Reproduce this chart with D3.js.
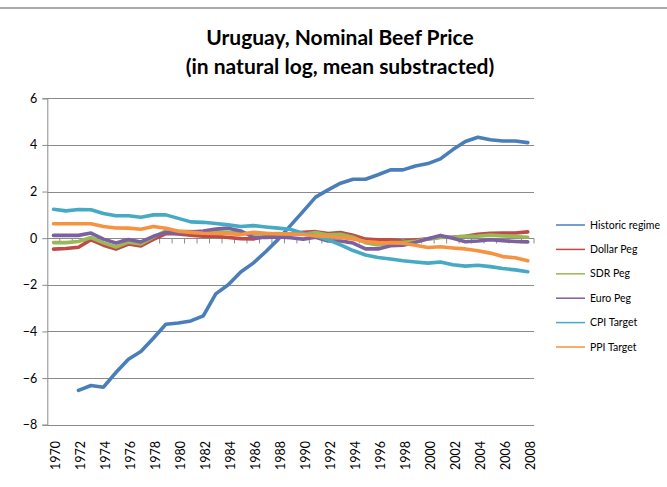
<!DOCTYPE html>
<html>
<head>
<meta charset="utf-8">
<script src="https://cdn.jsdelivr.net/npm/d3@7"></script>
<style>
  html, body { margin: 0; padding: 0; background: #fff; }
  svg { display: block; font-family: Lato, "Open Sans", sans-serif; }
</style>
</head>
<body>
<svg id="chart" width="667" height="487"></svg>
<script>
// Years on the category axis
const years = d3.range(1970, 2009);

// Tick values on the value axis
const yTicks = [-8, -6, -4, -2, 0, 2, 4, 6];

// Series names and colours
const seriesNames = ["Historic regime", "Dollar Peg", "SDR Peg", "Euro Peg", "CPI Target", "PPI Target"];
const seriesColors = ["#4A7EBB", "#BE4B48", "#98B954", "#7D60A0", "#46AAC5", "#F69240"];

// Log beef price (mean subtracted), 1970-2008
const historic = [null, null, -6.53, -6.32, -6.39, -5.76, -5.19, -4.86, -4.29, -3.69, -3.64, -3.55, -3.33,
  -2.39, -2.0, -1.45, -1.07, -0.58, -0.05, 0.55, 1.15, 1.76, 2.07, 2.36, 2.53, 2.53, 2.72, 2.93, 2.93,
  3.1, 3.2, 3.4, 3.8, 4.15, 4.33, 4.22, 4.17, 4.17, 4.1];
const dollarPeg = [-0.47, -0.44, -0.39, -0.07, -0.3, -0.47, -0.25, -0.33, -0.05, 0.2, 0.18, 0.13, 0.09,
  0.08, 0.03, -0.02, -0.03, 0.06, 0.12, 0.18, 0.25, 0.28, 0.2, 0.24, 0.13, -0.04, -0.07, -0.07, -0.12,
  -0.08, -0.03, 0.04, 0.05, 0.08, 0.17, 0.21, 0.22, 0.22, 0.27];
const sdrPeg = [-0.19, -0.19, -0.14, 0.03, -0.2, -0.38, -0.17, -0.25, 0.04, 0.32, 0.3, 0.28, 0.26,
  0.26, 0.25, 0.21, 0.2, 0.18, 0.2, 0.18, 0.17, 0.24, 0.14, 0.17, 0.04, -0.19, -0.29, -0.19, -0.18,
  -0.13, -0.03, 0.03, 0.04, 0.08, 0.09, 0.13, 0.1, 0.07, 0.04];
const euroPeg = [0.12, 0.12, 0.12, 0.22, -0.04, -0.21, -0.06, -0.16, 0.08, 0.24, 0.2, 0.26, 0.31,
  0.39, 0.43, 0.31, 0.04, 0.03, 0.05, 0.02, -0.04, 0.04, -0.12, -0.12, -0.21, -0.46, -0.46, -0.32, -0.3,
  -0.18, -0.02, 0.12, 0.0, -0.15, -0.12, -0.07, -0.11, -0.14, -0.16];
const cpiTarget = [1.24, 1.17, 1.23, 1.22, 1.06, 0.96, 0.96, 0.9, 1.0, 1.0, 0.85, 0.7, 0.68,
  0.63, 0.57, 0.5, 0.54, 0.48, 0.43, 0.37, 0.21, 0.1, -0.07, -0.29, -0.53, -0.72, -0.83, -0.89, -0.97,
  -1.02, -1.07, -1.02, -1.14, -1.2, -1.16, -1.22, -1.3, -1.36, -1.44];
const ppiTarget = [0.62, 0.62, 0.62, 0.62, 0.5, 0.44, 0.43, 0.38, 0.5, 0.43, 0.3, 0.25, 0.21,
  0.2, 0.19, 0.16, 0.25, 0.21, 0.18, 0.18, 0.16, 0.1, 0.07, 0.03, -0.03, -0.14, -0.19, -0.2, -0.22,
  -0.3, -0.4, -0.37, -0.42, -0.46, -0.54, -0.64, -0.79, -0.84, -0.97];

const seriesValues = [historic, dollarPeg, sdrPeg, euroPeg, cpiTarget, ppiTarget];

const svg = d3.select("#chart");

// Plot area
const plot = { left: 47.3, right: 534, top: 98.3, bottom: 424.7 };

const x = d3.scaleBand().domain(years).range([plot.left, plot.right]).padding(0);
const y = d3.scaleLinear().domain([-8, 6]).range([plot.bottom, plot.top]);
const cx = yr => x(yr) + x.bandwidth() / 2;

// Chart frame line along the top
svg.append("line")
  .attr("x1", 0).attr("x2", 667).attr("y1", 8).attr("y2", 8)
  .attr("stroke", "#8c8c8c").attr("stroke-width", 1.5);

// Title
const title = svg.append("text")
  .attr("text-anchor", "middle")
  .attr("font-weight", "bold")
  .attr("font-size", 21)
  .attr("fill", "#000");
title.append("tspan").attr("x", 340).attr("y", 45).text("Uruguay, Nominal Beef Price");
title.append("tspan").attr("x", 340).attr("y", 74).text("(in natural log, mean substracted)");

// Horizontal gridlines
svg.append("g")
  .selectAll("line")
  .data(yTicks)
  .join("line")
  .attr("x1", plot.left).attr("x2", plot.right)
  .attr("y1", d => Math.round(y(d)) + 0.5).attr("y2", d => Math.round(y(d)) + 0.5)
  .attr("stroke", "#8a8a8a").attr("stroke-width", 1);

// Value axis
const yAxis = d3.axisLeft(y).tickValues(yTicks).tickSize(5).tickPadding(5).tickFormat(d3.format("d"));
const yg = svg.append("g")
  .attr("transform", `translate(${plot.left},0)`)
  .call(yAxis);
yg.selectAll("path, line").attr("stroke", "#8a8a8a");
yg.selectAll("text").attr("font-size", 12.5).attr("fill", "#000").attr("font-family", "Lato, sans-serif");

// Category axis line at zero, with tick marks between categories
const zeroY = Math.round(y(0)) + 0.5;
const xa = svg.append("g");
xa.append("line")
  .attr("x1", plot.left).attr("x2", plot.right)
  .attr("y1", zeroY).attr("y2", zeroY)
  .attr("stroke", "#8a8a8a").attr("stroke-width", 1);
xa.selectAll("line.tick")
  .data(years.slice(1).concat([null]))
  .join("line")
  .attr("class", "tick")
  .attr("x1", d => d === null ? plot.right : x(d))
  .attr("x2", d => d === null ? plot.right : x(d))
  .attr("y1", zeroY).attr("y2", zeroY + 5)
  .attr("stroke", "#8a8a8a").attr("stroke-width", 1);

// Category labels, rotated, every second year
svg.append("g")
  .selectAll("text")
  .data(years.filter(d => d % 2 === 0))
  .join("text")
  .attr("transform", d => `translate(${cx(d) + 2.5},441) rotate(-90)`)
  .attr("text-anchor", "end")
  .attr("dy", "0.35em")
  .attr("font-size", 12.5)
  .attr("fill", "#000")
  .text(d => d);

// Series lines
const line = d3.line()
  .defined(d => d.v !== null)
  .x(d => cx(d.year))
  .y(d => y(d.v))
  .curve(d3.curveLinear);

svg.append("g")
  .selectAll("path")
  .data(seriesValues.map((vals, i) => ({ i, pts: vals.map((v, k) => ({ year: years[k], v })) })))
  .join("path")
  .attr("d", d => line(d.pts))
  .attr("fill", "none")
  .attr("stroke", d => seriesColors[d.i])
  .attr("stroke-width", 3.6)
  .attr("stroke-linejoin", "round")
  .attr("stroke-linecap", "round");

// Legend
const legend = svg.append("g")
  .selectAll("g")
  .data(seriesNames)
  .join("g")
  .attr("transform", (d, i) => `translate(0,${225 + i * 24.4})`);
legend.append("line")
  .attr("x1", 556).attr("x2", 585).attr("y1", 0).attr("y2", 0)
  .attr("stroke", (d, i) => seriesColors[i]).attr("stroke-width", 1.5);
legend.append("text")
  .attr("x", 590).attr("y", 0).attr("dy", "0.35em")
  .attr("font-size", 10.5).attr("fill", "#000")
  .text(d => d);
</script>
</body>
</html>
